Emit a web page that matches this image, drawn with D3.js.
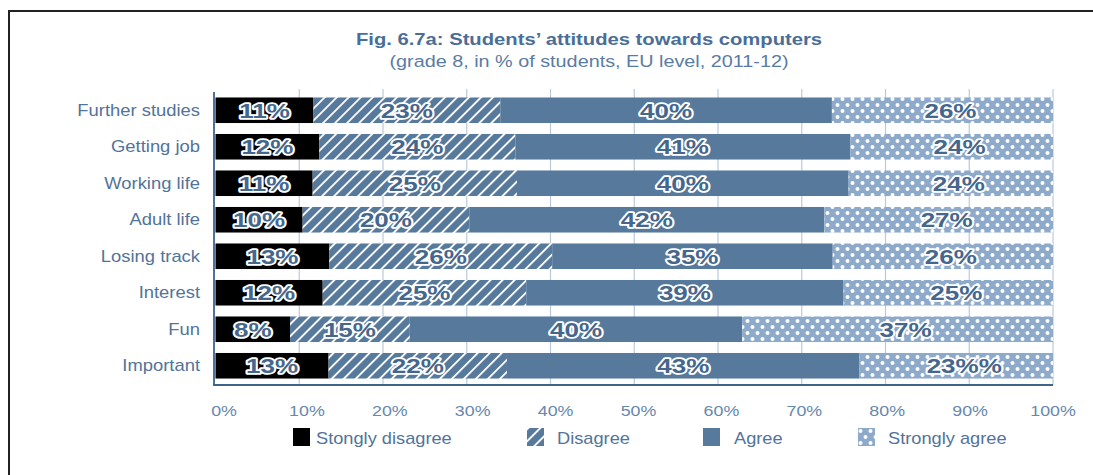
<!DOCTYPE html>
<html>
<head>
<meta charset="utf-8">
<script src="https://d3js.org/d3.v7.min.js"></script>
<style>
  body { margin: 0; background: #fff; }
  svg { display: block; font-family: "Liberation Sans", Arial, sans-serif; }
</style>
</head>
<body>
<div id="chart"></div>
<script>
// categories (top to bottom)
const categories = ["Further studies", "Getting job", "Working life", "Adult life",
  "Losing track", "Interest", "Fun", "Important"];

// series values (in %)
const stronglyDisagree = [11.7, 12.4, 11.6, 10.4, 13.6, 12.8, 8.9, 13.5];
const disagree         = [22.3, 23.4, 24.4, 19.9, 26.6, 24.3, 14.3, 21.3];
const agree            = [39.6, 40.0, 39.6, 42.4, 33.5, 37.9, 39.7, 42.1];
const stronglyAgree    = [26.4, 24.2, 24.4, 27.3, 26.3, 25.0, 37.1, 23.1];

// printed labels on the bars
const labelsSD = ["11%", "12%", "11%", "10%", "13%", "12%", "8%", "13%"];
const labelsD  = ["23%", "24%", "25%", "20%", "26%", "25%", "15%", "22%"];
const labelsA  = ["40%", "41%", "40%", "42%", "35%", "39%", "40%", "43%"];
const labelsSA = ["26%", "24%", "24%", "27%", "26%", "25%", "37%", "23%%"];

const seriesNames = ["Stongly disagree", "Disagree", "Agree", "Strongly agree"];
const xTicks = [0, 10, 20, 30, 40, 50, 60, 70, 80, 90, 100];

const W = 1093, H = 475;
const svg = d3.select("#chart").append("svg").attr("width", W).attr("height", H);

// the source text is drawn a bit wider than normal, so stretch it horizontally
function stretched(sel, sx, xf, yf) {
  return sel.attr("transform", (d, i) => `translate(${xf(d, i)},${yf(d, i)}) scale(${sx},1)`);
}

// patterns
const defs = svg.append("defs");
const hatch = defs.append("pattern").attr("id", "hatch")
  .attr("patternUnits", "userSpaceOnUse").attr("width", 8.5).attr("height", 8.5)
  .attr("patternTransform", "rotate(45)");
hatch.append("rect").attr("width", 8.5).attr("height", 8.5).attr("fill", "#56799c");
hatch.append("rect").attr("x", 0).attr("width", 1.8).attr("height", 8.5).attr("fill", "#fff");

const dots = defs.append("pattern").attr("id", "dots")
  .attr("patternUnits", "userSpaceOnUse").attr("width", 10).attr("height", 12);
dots.append("rect").attr("width", 10).attr("height", 12).attr("fill", "#8eaacb");
dots.append("circle").attr("cx", 2.5).attr("cy", 3).attr("r", 2).attr("fill", "#fff");
dots.append("circle").attr("cx", 7.5).attr("cy", 9).attr("r", 2).attr("fill", "#fff");

const fills = ["#000", "url(#hatch)", "#56799c", "url(#dots)"];

// frame
svg.append("path").attr("d", `M9,${H} V11 H${W}`)
  .attr("fill", "none").attr("stroke", "#222").attr("stroke-width", 2);

// titles
svg.append("text").attr("text-anchor", "middle")
  .attr("transform", "translate(589,45) scale(1.19,1)")
  .attr("font-size", 17).attr("font-weight", "bold").attr("fill", "#4a6e98")
  .text("Fig. 6.7a: Students’ attitudes towards computers");
svg.append("text").attr("text-anchor", "middle")
  .attr("transform", "translate(589,67) scale(1.2,1)")
  .attr("font-size", 16.5).attr("fill", "#5a7ca3")
  .text("(grade 8, in % of students, EU level, 2011-12)");

// scales
const x = d3.scaleLinear().domain([0, 100]).range([215.5, 1053]);
const xLab = d3.scaleLinear().domain([0, 100]).range([224, 1053]);
const y = d3.scaleBand().domain(categories).range([92, 384])
  .paddingInner(0.3).paddingOuter(0.15);

// gridlines
svg.append("g").selectAll("line").data(xTicks.slice(1)).join("line")
  .attr("x1", d => x(d)).attr("x2", d => x(d))
  .attr("y1", 89).attr("y2", 385)
  .attr("stroke", "#b9c9db").attr("stroke-width", 1.2);

// stacked data
const rows = categories.map((c, i) => ({
  cat: c,
  vals: [stronglyDisagree[i], disagree[i], agree[i], stronglyAgree[i]],
  labs: [labelsSD[i], labelsD[i], labelsA[i], labelsSA[i]]
}));

const segs = [];
rows.forEach(r => {
  let acc = 0;
  r.vals.forEach((v, k) => {
    segs.push({ cat: r.cat, k, x0: acc, x1: acc + v, lab: r.labs[k] });
    acc += v;
  });
});

svg.append("g").selectAll("rect").data(segs).join("rect")
  .attr("x", d => x(d.x0)).attr("width", d => x(d.x1) - x(d.x0))
  .attr("y", d => y(d.cat)).attr("height", y.bandwidth())
  .attr("fill", d => fills[d.k]);

// bar labels
stretched(
  svg.append("g").selectAll("text").data(segs).join("text"), 1.24,
  d => x((d.x0 + d.x1) / 2) + (d.k === 3 ? 8 : 0),
  d => y(d.cat) + y.bandwidth() / 2 + 7.5)
  .attr("text-anchor", "middle")
  .attr("font-size", 21).attr("font-weight", "bold")
  .attr("fill", "#45678d").attr("stroke", "#fff").attr("stroke-width", 3.5)
  .attr("stroke-linejoin", "round").attr("paint-order", "stroke")
  .text(d => d.lab);

// axes lines
svg.append("line").attr("x1", 214).attr("x2", 214).attr("y1", 92).attr("y2", 386)
  .attr("stroke", "#4f7398").attr("stroke-width", 2);
svg.append("line").attr("x1", 213).attr("x2", x(100)).attr("y1", 385).attr("y2", 385)
  .attr("stroke", "#3f6489").attr("stroke-width", 2);

// category labels
stretched(
  svg.append("g").selectAll("text").data(categories).join("text"), 1.15,
  () => 200, d => y(d) + y.bandwidth() / 2 + 5.5)
  .attr("text-anchor", "end").attr("font-size", 16).attr("fill", "#52739a")
  .text(d => d);

// x tick labels
stretched(
  svg.append("g").selectAll("text").data(xTicks).join("text"), 1.15,
  d => xLab(d), () => 416)
  .attr("text-anchor", "middle").attr("font-size", 15.5).attr("fill", "#6688ad")
  .text(d => d + "%");

// legend
const legX = [293, 527, 703, 858];
const lg = svg.append("g").selectAll("g").data(seriesNames).join("g")
  .attr("transform", (d, i) => `translate(${legX[i]},428)`);
lg.append("rect").attr("width", 17).attr("height", 18)
  .attr("fill", (d, i) => fills[i]);
stretched(lg.append("text"), 1.14, (d, i) => [23, 30, 31, 30][i], () => 15.5)
  .attr("font-size", 16).attr("fill", "#52739a").text(d => d);
</script>
</body>
</html>
